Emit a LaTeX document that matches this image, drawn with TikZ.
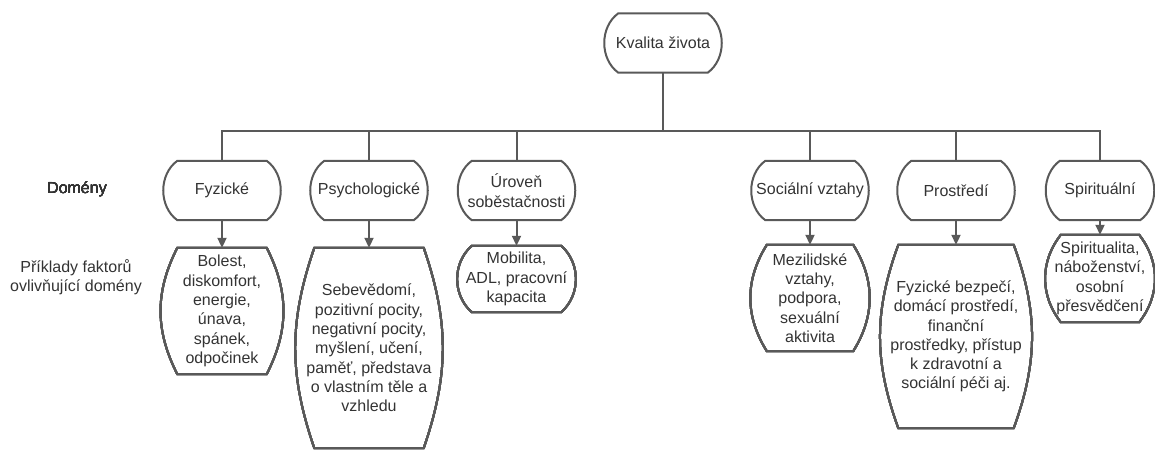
\documentclass[tikz,border=0pt]{standalone}
\usepackage{fontspec}
\setmainfont{Liberation Sans}
\usepackage{xcolor}
\usetikzlibrary{arrows.meta}
\definecolor{linegray}{HTML}{595959}
\definecolor{textgray}{HTML}{333333}
% outline with bulging sides: node name, bend angle
\newcommand{\termoutline}[2]{%
    \draw[link] ([xshift=15pt]#1.north west) -- ([xshift=-15pt]#1.north east)
        to[bend left=#2] ([xshift=-15pt]#1.south east) -- ([xshift=15pt]#1.south west)
        to[bend left=#2] ([xshift=15pt]#1.north west) -- cycle;
}

\begin{document}
\begin{tikzpicture}[x=1pt, y=-1pt, font=\fontsize{16}{19.3}\selectfont]
            \tikzset{
                domain_node/.style={shape=rectangle, minimum width=119pt, minimum height=59pt, inner sep=1pt, align=center, text=textgray},
                factor_node/.style={domain_node},
                side_label/.style={align=center, text=textgray},
                link/.style={draw=linegray, line width=2pt},
                arr/.style={link, -{Triangle[length=10pt, width=9pt]}}
            }
            \useasboundingbox (0,0) rectangle (1155,450);
            \coordinate (bus) at (663,131);
            \node[domain_node] (K) at (663,43) {Kvalita života};
            % domains
            \node[domain_node] (D1) at (222,190.5) {Fyzické};
            \node[domain_node] (D2) at (369,190.5) {Psychologické};
            \node[domain_node] (D3) at (516.5,190.5) {Úroveň\\ soběstačnosti};
            \node[domain_node] (D4) at (810,190.5) {Sociální vztahy};
            \node[domain_node] (D5) at (956,190.5) {Prostředí};
            \node[domain_node, minimum width=110pt] (D6) at (1100,190.5) {Spirituální};
            % factors
            \node[factor_node, minimum height=126pt] (F1) at (222,311) {Bolest,\\ diskomfort,\\ energie,\\ únava,\\ spánek,\\ odpočinek};
            \node[factor_node, minimum width=139pt, minimum height=200pt] (F2) at (369,348) {Sebevědomí,\\ pozitivní pocity,\\ negativní pocity,\\ myšlení, učení,\\ paměť, představa\\ o vlastním těle a\\ vzhledu};
            \node[factor_node, minimum height=66pt] (F3) at (516.5,279) {Mobilita,\\ ADL, pracovní\\ kapacita};
            \node[factor_node, minimum width=116pt, minimum height=106pt] (F4) at (810,298) {Mezilidské\\ vztahy,\\ podpora,\\ sexuální\\ aktivita};
            \node[factor_node, minimum width=145pt, minimum height=183pt] (F5) at (956,336.5) {Fyzické bezpečí,\\ domácí prostředí,\\ finanční\\ prostředky, přístup\\ k zdravotní a\\ sociální péči aj.};
            \node[factor_node, minimum width=108pt, minimum height=87pt] (F6) at (1100,278.5) {Spiritualita,\\ náboženství,\\ osobní\\ přesvědčení};
            % outlines
            \foreach \n in {K,D1,D2,D3,D4,D5,D6}
                \termoutline{\n}{54}
            \termoutline{F1}{27}
            \termoutline{F2}{19}
            \termoutline{F3}{49}
            \termoutline{F4}{32}
            \termoutline{F5}{20}
            \termoutline{F6}{38}
            % row labels
            \node[side_label] (L1) at (77,189) {Domény};
            \node[side_label] (L2) at (76,277) {Příklady faktorů\\ ovlivňující domény};
            % tree
            \draw[link] (K.south) -- (K.south |- bus);
            \draw[link] (D1.north) |- (D6.north |- bus) -- (D6.north);
            \foreach \d in {D2,D3,D4,D5}
                \draw[link] (\d.north |- bus) -- (\d.north);
            \foreach \i in {1,...,6}
                \path (D\i) edge[arr] (F\i);
        \end{tikzpicture}
\end{document}
